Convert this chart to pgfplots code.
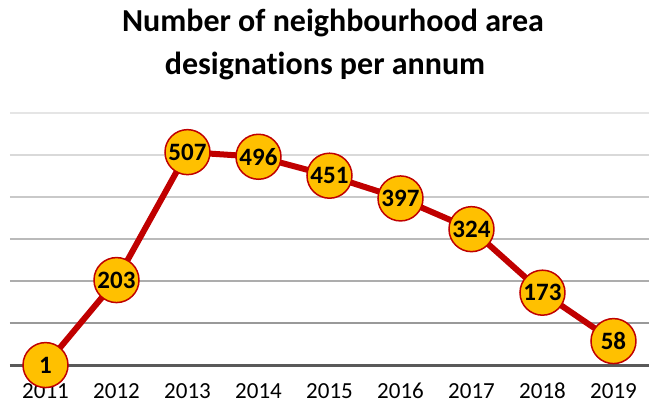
\documentclass[border=0pt]{standalone}
\usepackage{pgfplots}
\pgfplotsset{compat=1.18}
\usepackage{fontspec}
\setmainfont{Carlito}[Ligatures=NoCommon]
\definecolor{linered}{HTML}{C00000}
\definecolor{mkyellow}{HTML}{FFC000}
\definecolor{basegray}{HTML}{595959}
\begin{document}
\begin{tikzpicture}[x=1pt,y=1pt]
\path[use as bounding box] (0,0) rectangle (649,405);
\node[anchor=base, font=\fontsize{32}{38}\selectfont\bfseries] at (333,373) {Number of neighbourhood area};
\node[anchor=base, font=\fontsize{32}{38}\selectfont\bfseries] at (325,330) {designations per annum};
\begin{axis}[
  at={(10pt,39.5pt)}, anchor=south west,
  scale only axis, width=639pt, height=252.5pt,
  xmin=2010.5, xmax=2019.5, ymin=0, ymax=600,
  clip=false,
  axis line style={draw=none},
  tick style={draw=none},
  ytick=\empty,
  xtick={2011,2012,2013,2014,2015,2016,2017,2018,2019},
  xticklabels={2011,2012,2013,2014,2015,2016,2017,2018,2019},
  xticklabel style={anchor=base, yshift=-32.5pt, inner sep=0pt, text depth=0pt, font=\fontsize{23}{23}\selectfont},
  /pgf/number format/assume math mode=true,
  nodes near coords,
  nodes near coords style={anchor=center, font=\fontsize{25}{25}\selectfont\bfseries, text=black},
]
\draw[black!10, line width=2pt] (axis cs:2010.5,600) -- (axis cs:2019.5,600);
\draw[black!15, line width=2pt] (axis cs:2010.5,500) -- (axis cs:2019.5,500);
\draw[black!21, line width=2pt] (axis cs:2010.5,400) -- (axis cs:2019.5,400);
\draw[black!27, line width=2pt] (axis cs:2010.5,300) -- (axis cs:2019.5,300);
\draw[black!32, line width=2pt] (axis cs:2010.5,200) -- (axis cs:2019.5,200);
\draw[black!40, line width=2pt] (axis cs:2010.5,100) -- (axis cs:2019.5,100);
\draw[basegray, line width=3.5pt] (axis cs:2010.5,0) -- (axis cs:2019.5,0);
\addplot[linered, line width=6pt, mark=*, mark size=22.5pt,
  mark options={fill=mkyellow, draw=linered, line width=1.5pt}]
  coordinates {(2011,1) (2012,203) (2013,507) (2014,496) (2015,451) (2016,397) (2017,324) (2018,173) (2019,58)};
\end{axis}
\end{tikzpicture}
\end{document}
